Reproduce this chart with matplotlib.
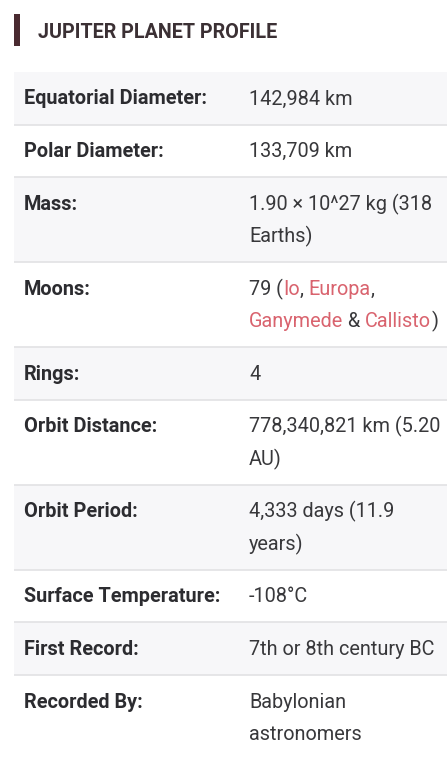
import matplotlib.pyplot as plt
from matplotlib.patches import Rectangle

W, H = 447, 760

title = "JUPITER PLANET PROFILE"
labels = [
    "Equatorial Diameter:",
    "Polar Diameter:",
    "Mass:",
    "Moons:",
    "Rings:",
    "Orbit Distance:",
    "Orbit Period:",
    "Surface Temperature:",
    "First Record:",
    "Recorded By:",
]
# each value is a list of lines, each line a list of (text, is_link) pieces
values = [
    [[("142,984 km", False)]],
    [[("133,709 km", False)]],
    [[("1.90 × 10^27 kg (318", False)], [("Earths)", False)]],
    [[("79 (", False), ("Io", True), (", ", False), ("Europa", True), (",", False)],
     [("Ganymede", True), (" & ", False), ("Callisto", True), (")", False)]],
    [[("4", False)]],
    [[("778,340,821 km (5.20", False)], [("AU)", False)]],
    [[("4,333 days (11.9", False)], [("years)", False)]],
    [[("-108°C", False)]],
    [[("7th or 8th century BC", False)]],
    [[("Babylonian", False)], [("astronomers", False)]],
]

TEXT = "#2c2c30"
VAL = "#38383b"
LINK = "#d9636e"
SHADE = "#f7f7f9"
RULE = "#e2e2e4"
FONT = "Roboto"
FS = 14.3

fig = plt.figure(figsize=(W / 100, H / 100), dpi=100)
ax = fig.add_axes([0, 0, 1, 1])
ax.set_xlim(0, W)
ax.set_ylim(H, 0)
ax.axis("off")
renderer = fig.canvas.get_renderer()


def text_width(s):
    # trailing spaces need a guard char to be counted
    guard = s.endswith(" ")
    t = ax.text(0, 0, s + ("|" if guard else ""), fontsize=FS, family=FONT)
    w = t.get_window_extent(renderer).width
    t.remove()
    if guard:
        g = ax.text(0, 0, "|", fontsize=FS, family=FONT)
        w -= g.get_window_extent(renderer).width
        g.remove()
    return w


# title with accent bar
ax.add_patch(Rectangle((14, 14), 6, 32, color="#4a2a31", lw=0))
ax.text(38, 32, title, fontsize=14.2, family=FONT, fontweight="bold",
        color="#3b3034", va="center")

top = 72
line_h = 32.4
x_label, x_val = 24, 249
for i, (lab, lines) in enumerate(zip(labels, values)):
    h = 52.6 + line_h * (len(lines) - 1)
    if i % 2 == 0:
        ax.add_patch(Rectangle((14, top), W - 14, h, color=SHADE, lw=0, zorder=0))
    first = top + 27
    ax.text(x_label, first, lab, fontsize=FS, family=FONT, fontweight="bold",
            color=TEXT, va="center")
    for j, line in enumerate(lines):
        y = first + j * line_h
        prefix = ""
        for piece, link in line:
            x = x_val + (text_width(prefix) if prefix else 0)
            ax.text(x, y, piece, fontsize=FS, family=FONT,
                    color=LINK if link else VAL, va="center")
            prefix += piece
    top += h
    if i < len(labels) - 1:
        ax.plot([14, W], [top, top], color=RULE, lw=1.2, solid_capstyle="butt")

fig.savefig("out.png", dpi=100, facecolor="white")
